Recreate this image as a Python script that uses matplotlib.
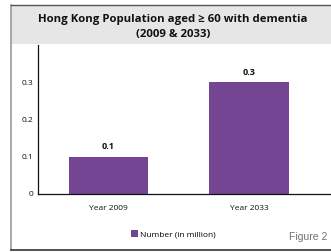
import matplotlib.pyplot as plt
from matplotlib.patches import Rectangle
from matplotlib.lines import Line2D

# chart data
years = ["Year 2009", "Year 2033"]
number_million = [0.1, 0.3]
y_ticks = [0, 0.1, 0.2, 0.3]
y_tick_labels = ["0", "0.1", "0.2", "0.3"]

W, H = 331, 252
fig = plt.figure(figsize=(W / 100, H / 100), dpi=100)
fig.patch.set_facecolor("white")

def fx(px):
    return px / W

def fy(py):
    return 1 - py / H

# title band and frame
fig.patches.append(Rectangle((fx(11), fy(44)), fx(331 - 11), (44 - 5) / H,
                             transform=fig.transFigure, facecolor="#e6e6e6",
                             edgecolor="none", zorder=0))
fig.lines.append(Line2D([fx(11), fx(11)], [fy(5), fy(250)], transform=fig.transFigure,
                        color="#9a9a9a", lw=1.2))
fig.lines.append(Line2D([fx(11), 1], [fy(5), fy(5)], transform=fig.transFigure,
                        color="#555555", lw=1.0))
fig.lines.append(Line2D([fx(11), 1], [fy(250), fy(250)], transform=fig.transFigure,
                        color="#333333", lw=1.2))

fig.text(fx(173), fy(20), "Hong Kong Population aged \u2265 60 with dementia",
         ha="center", va="center", fontsize=8.2, fontweight="bold",
         family="Open Sans", color="#111111")
fig.text(fx(173), fy(35), "(2009 & 2033)", ha="center", va="center",
         fontsize=8.2, fontweight="bold", family="Open Sans", color="#111111")

ax = fig.add_axes([fx(37.5), fy(194), 1 - fx(37.5), (194 - 45) / H])
ax.set_facecolor("none")
x = range(len(years))
bars = ax.bar(x, number_million, width=0.567, color="#744593", label="Number (in million)")
ax.set_xlim(-0.504, 1.58)
ax.set_ylim(0, 0.4)

for b, v in zip(bars, number_million):
    ax.annotate(f"{v:.1f}", (b.get_x() + b.get_width() / 2, v), xytext=(0, 4),
                textcoords="offset points", ha="center", va="bottom",
                fontsize=6.6, fontweight="bold", family="Open Sans", color="#111111")

ax.set_xticks(list(x))
ax.set_xticklabels(years, fontsize=6, family="Open Sans", color="#111111")
ax.set_yticks(y_ticks)
ax.set_yticklabels(y_tick_labels, fontsize=6, family="Open Sans", color="#111111")
ax.tick_params(axis="x", length=0, pad=8)
ax.tick_params(axis="y", length=0, pad=3.3)

for s in ["top", "right"]:
    ax.spines[s].set_visible(False)
ax.spines["left"].set_color("#111111")
ax.spines["bottom"].set_color("#111111")
ax.spines["left"].set_linewidth(0.9)
ax.spines["bottom"].set_linewidth(0.9)

fig.legend(handles=[bars], labels=["Number (in million)"], loc="center",
           bbox_to_anchor=(fx(173), fy(234)), frameon=False, handlelength=0.9,
           handleheight=0.9, handletextpad=0.2, borderpad=0,
           prop={"family": "Open Sans", "size": 6})

fig.text(fx(327), fy(237), "Figure 2", ha="right", va="center", fontsize=7.5,
         family="Liberation Sans", color="#707070")

fig.savefig("out.png", dpi=100)
